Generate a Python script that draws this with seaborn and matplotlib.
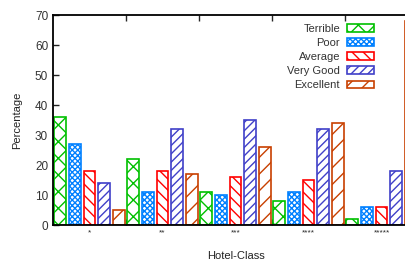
import matplotlib
matplotlib.use("Agg")
import matplotlib.pyplot as plt
from matplotlib.patches import Patch
import seaborn as sns
import pandas as pd

categories = ["*", "**", "***", "****", "*****"]
series = ["Terrible", "Poor", "Average", "Very Good", "Excellent"]
terrible = [36, 22, 11, 8, 2]
poor = [27, 11, 10, 11, 6]
average = [18, 18, 16, 15, 6]
very_good = [14, 32, 35, 32, 18]
excellent = [5, 17, 26, 34, 68]

colors = ["#00c000", "#0080ff", "#ff0000", "#4040c8", "#c84000"]
hatches = ["xx", "xxxxxx", "\\\\\\", "////", "//"]

rows = []
for name, vals in zip(series, [terrible, poor, average, very_good, excellent]):
    for c, v in zip(categories, vals):
        rows.append({"Hotel-Class": c, "Rating": name, "Percentage": v})
df = pd.DataFrame(rows)

sns.set_style("ticks")
plt.rcParams["font.family"] = ["Liberation Sans", "DejaVu Sans"]
plt.rcParams["hatch.linewidth"] = 1.0

fig = plt.figure(figsize=(4.05, 2.62), dpi=100)
ax = fig.add_axes([53 / 405, 1 - 225 / 262, 365 / 405, 210 / 262])

sns.barplot(data=df, x="Hotel-Class", y="Percentage", hue="Rating",
            hue_order=series, order=categories, palette=colors,
            width=1.0, ax=ax, legend=False, errorbar=None)

shrink = 0.82
for i, cont in enumerate(ax.containers):
    for p in cont:
        w = p.get_width()
        x0 = p.get_x()
        p.set_x(x0 + w * (1 - shrink) / 2)
        p.set_width(w * shrink)
        p.set_facecolor("white")
        p.set_hatch(hatches[i])
        p.set_edgecolor(colors[i])
        p.set_linewidth(1.2)

ax.set_xlim(-0.5, 4.5)
ax.set_ylim(0, 70)
ax.set_yticks(range(0, 71, 10))
ax.set_xticks(range(5))
ax.set_xticklabels(categories, fontsize=6)
ax.set_xticks([0.5, 1.5, 2.5, 3.5], minor=True)
ax.tick_params(axis="x", which="major", length=0, pad=3)
ax.tick_params(axis="x", which="minor", length=4, direction="in", top=True, bottom=True, width=1)
ax.tick_params(axis="y", which="major", length=4, direction="in", labelsize=8.5, width=1, colors="#222222", labelcolor="#333333")
for s in ax.spines.values():
    s.set_linewidth(1.3)
    s.set_color("black")

ax.set_ylabel("Percentage", fontsize=8, color="#222222", labelpad=9)
ax.set_xlabel("Hotel-Class", fontsize=8, color="#222222", labelpad=11)

handles = [Patch(facecolor="white", edgecolor=c, hatch=h, linewidth=1.2)
           for c, h in zip(colors, hatches)]
leg = fig.legend(handles, series, loc="upper right",
                 bbox_to_anchor=(380 / 405, 1 - 18 / 262),
                 frameon=False, markerfirst=False, fontsize=8,
                 handlelength=2.5, handleheight=0.7, labelspacing=0.38,
                 borderpad=0, handletextpad=0.6)
for t in leg.get_texts():
    t.set_color("#333333")

fig.savefig("out.png", dpi=100)
